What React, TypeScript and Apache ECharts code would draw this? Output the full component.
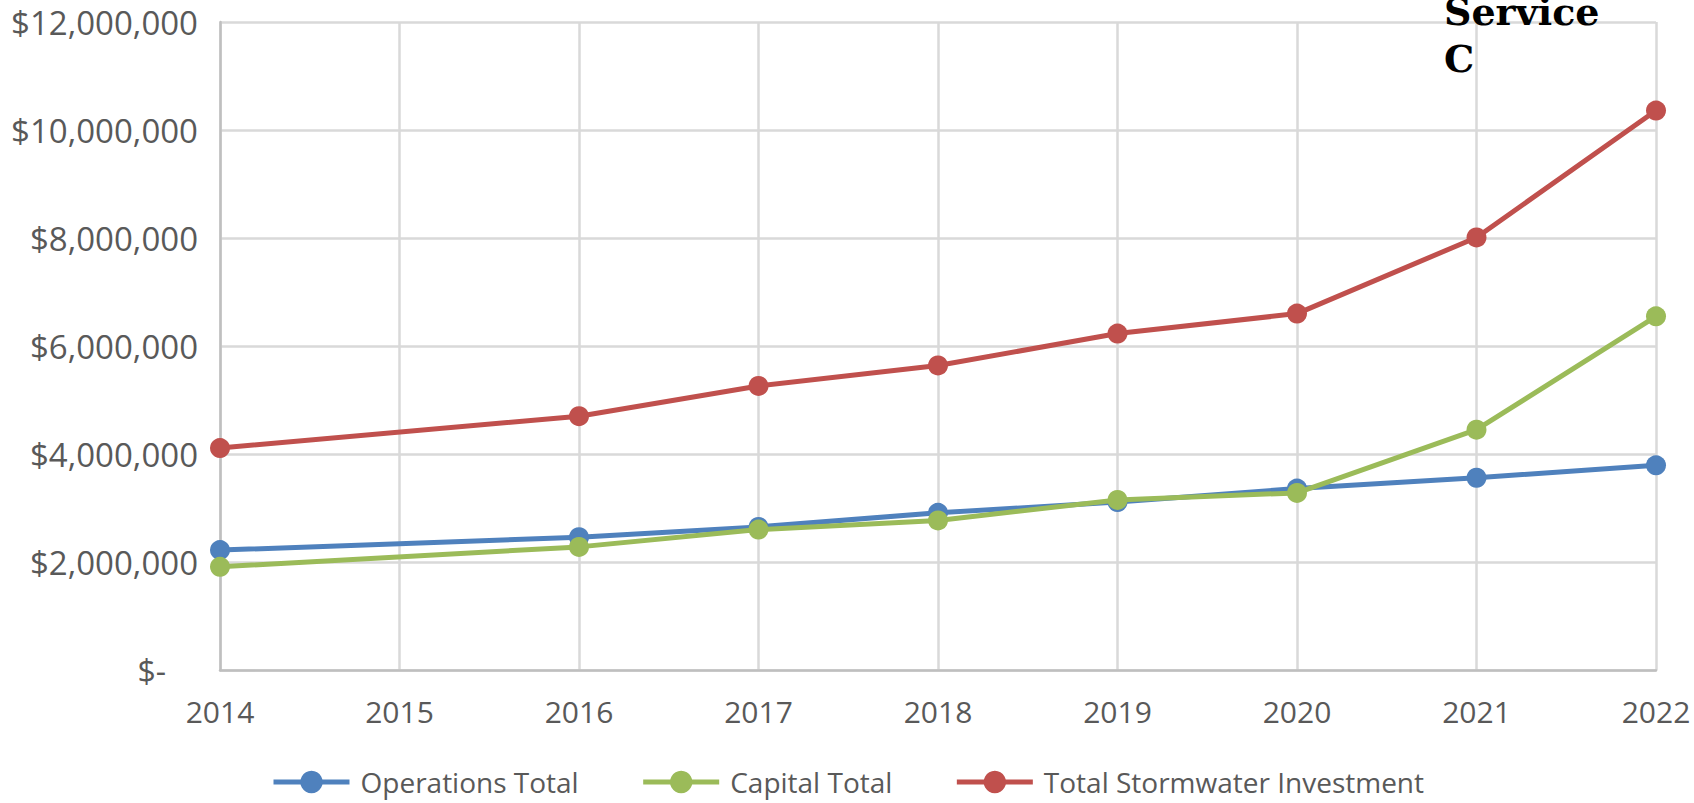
import React, { useEffect, useRef } from "react";
import * as echarts from "echarts";

const years = [2014, 2016, 2017, 2018, 2019, 2020, 2021, 2022];
const operationsTotal = [2.22e6, 2.46e6, 2.65e6, 2.91e6, 3.11e6, 3.36e6, 3.56e6, 3.79e6];
const capitalTotal = [1.91e6, 2.28e6, 2.6e6, 2.77e6, 3.15e6, 3.28e6, 4.45e6, 6.55e6];
const totalInvestment = [4.11e6, 4.7e6, 5.26e6, 5.64e6, 6.23e6, 6.6e6, 8.01e6, 10.36e6];
const seriesNames = ["Operations Total", "Capital Total", "Total Stormwater Investment"];
const seriesColors = ["#4F81BD", "#9BBB59", "#C0504D"];
const titleLines = ["Service", "C"];

const FONT = "'Open Sans', sans-serif";
const TXT = "#595959";

export default function App() {
  const ref = useRef<HTMLDivElement>(null);
  useEffect(() => {
    if (!ref.current) return;
    const chart = echarts.init(ref.current, undefined, { renderer: "svg" });
    const allSeries = [operationsTotal, capitalTotal, totalInvestment];
    const series = allSeries.map((vals, i) => ({
      name: seriesNames[i],
      type: "line",
      data: years.map((y, j) => [y, vals[j]]),
      symbol: "circle",
      symbolSize: 20,
      lineStyle: { width: 5, color: seriesColors[i] },
      itemStyle: { color: seriesColors[i] },
      z: 3 + (i === 1 ? 1 : 0),
    }));
    chart.setOption({
      animation: false,
      backgroundColor: "#ffffff",
      grid: { left: 220, right: 38, top: 22, bottom: 133, containLabel: false },
      legend: {
        data: seriesNames,
        left: 266,
        top: 763,
        itemWidth: 76,
        itemHeight: 28,
        itemGap: 62,
        lineStyle: { width: 5 },
        textStyle: { fontFamily: FONT, fontSize: 28, color: TXT, padding: [0, 0, 0, 6] },
      },
      xAxis: {
        type: "value",
        min: 2014,
        max: 2022,
        interval: 1,
        axisLine: { show: true, onZero: false, lineStyle: { color: "#bfbfbf", width: 2.5 } },
        axisTick: { show: false },
        splitLine: { show: true, lineStyle: { color: "#d9d9d9", width: 2.5 } },
        axisLabel: {
          fontFamily: FONT,
          fontSize: 30,
          color: TXT,
          margin: 26,
          formatter: (v: number) => String(v),
        },
      },
      yAxis: {
        type: "value",
        min: 0,
        max: 12e6,
        interval: 2e6,
        axisLine: { show: true, lineStyle: { color: "#bfbfbf", width: 2.5 } },
        axisTick: { show: false },
        splitLine: { show: true, lineStyle: { color: "#d9d9d9", width: 2.5 } },
        axisLabel: {
          fontFamily: FONT,
          fontSize: 33,
          color: TXT,
          margin: 22,
          formatter: (v: number) =>
            v === 0 ? "{z|$-}" : "$" + v.toLocaleString("en-US"),
          rich: {
            z: { fontFamily: FONT, fontSize: 32, color: TXT, padding: [0, 32, 0, 0] },
          },
        },
      },
      graphic: [
        {
          type: "text",
          left: 1444,
          top: -12,
          z: 100,
          style: {
            text: titleLines.join("\n"),
            font: "bold 38px 'DejaVu Serif'",
            lineHeight: 47,
            fill: "#000000",
          },
        },
      ],
      series,
    });
    return () => chart.dispose();
  }, []);
  return (
    <div
      ref={ref}
      style={{ position: "fixed", left: 0, top: 0, width: 1694, height: 803, background: "#fff" }}
    />
  );
}
